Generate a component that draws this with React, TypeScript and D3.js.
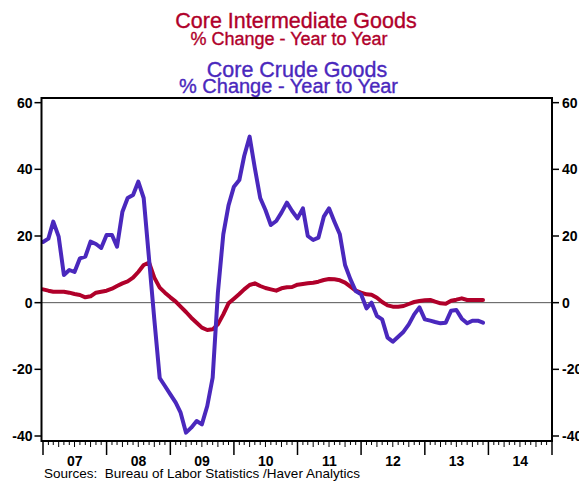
import React from 'react';
import * as d3 from 'd3';

// Monthly % change, Jan 2007 .. Dec 2013
const crudeGoods = [
  18.2, 19.2, 24.3, 19.8, 8.3, 9.8, 9.2, 13.3, 13.8, 18.3, 17.6, 16.4,
  20.3, 20.3, 16.8, 27.3, 31.4, 32.3, 36.3, 31.4, 13, -5, -22.6, -25,
  -27.5, -30, -33, -39, -37.5, -35.5, -36.5, -31, -22.5, 3, 20.5, 29.2,
  34.8, 36.8, 44, 49.8, 40.4, 31.4, 27.8, 23.3, 24.5, 27, 30, 27.5,
  25.3, 28.3, 20, 18.8, 19.5, 25.8, 28.3, 24.3, 20.5, 11.3, 7, 3.5,
  2.5, -1.7, 0, -4, -5, -10.5, -11.7, -10.2, -8.7, -6.5, -3.5, -1.4,
  -5, -5.4, -5.8, -6.2, -6, -2.4, -2.2, -4.8, -6.2, -5.4, -5.4, -6,
];

const intermediateGoods = [
  4.0, 3.6, 3.3, 3.3, 3.3, 3.0, 2.6, 2.3, 1.6, 1.9, 3.0, 3.3,
  3.6, 4.2, 5.0, 5.8, 6.4, 7.5, 9.2, 11.3, 12.0, 7.5, 4.5, 3.0,
  1.6, 0.3, -1.2, -2.8, -4.5, -6.0, -7.5, -8.2, -8.0, -6.5, -3.5, -0.2,
  1.2, 2.6, 4.0, 5.3, 5.8, 5.0, 4.4, 4.0, 3.6, 4.3, 4.6, 4.7,
  5.4, 5.6, 5.8, 6.0, 6.3, 6.8, 7.1, 7.0, 6.7, 6.0, 4.8, 3.6,
  3.0, 2.5, 2.4, 1.5, 0.2, -0.8, -1.2, -1.2, -1.0, -0.4, 0.2, 0.5,
  0.7, 0.8, 0.3, -0.2, -0.3, 0.6, 0.9, 1.3, 0.8, 0.8, 0.8, 0.8,
];

const yTicks = [-40, -20, 0, 20, 40, 60];
const years = [2007, 2008, 2009, 2010, 2011, 2012, 2013, 2014];
const yearLabels = ['07', '08', '09', '10', '11', '12', '13', '14'];

const RED = '#b0002a';
const PURPLE = '#4a28bd';
const FONT = '"Liberation Sans", Arial, sans-serif';

const W = 579;
const H = 481;
const left = 41.5;
const right = 552;
const top = 98;
const bottom = 441;

export default function App() {
  const x = d3.scaleTime()
    .domain([new Date(2007, 0, 1), new Date(2015, 0, 1)])
    .range([43, 552]);
  const y = d3.scaleLinear().domain([-41.5, 61.4]).range([bottom, top]);

  const dateAt = (i: number) => new Date(2007, i, 1);
  const line = d3.line<number>()
    .x((_, i) => x(dateAt(i)))
    .y(d => y(d));

  const months = d3.timeMonth.range(new Date(2007, 0, 1), new Date(2015, 0, 2));

  return (
    <svg width={W} height={H} style={{ position: 'absolute', left: 0, top: 0, background: '#fff' }}
      fontFamily={FONT}>
      {/* titles */}
      <g strokeWidth={0.35}>
        <text x={296} y={28} textAnchor="middle" fontSize={21.5} fill={RED} stroke={RED}>Core Intermediate Goods</text>
        <text x={289} y={45} textAnchor="middle" fontSize={18} fill={RED} stroke={RED}>% Change - Year to Year</text>
        <text x={297} y={77} textAnchor="middle" fontSize={21.5} fill={PURPLE} stroke={PURPLE}>Core Crude Goods</text>
        <text x={288.5} y={93} textAnchor="middle" fontSize={20} fill={PURPLE} stroke={PURPLE}>% Change - Year to Year</text>
      </g>

      {/* zero line */}
      <line x1={left} x2={right} y1={y(0)} y2={y(0)} stroke="#555" strokeWidth={1} />

      {/* series */}
      <path d={line(intermediateGoods) || ''} fill="none" stroke={RED} strokeWidth={4}
        strokeLinejoin="round" strokeLinecap="round" />
      <path d={line(crudeGoods) || ''} fill="none" stroke={PURPLE} strokeWidth={4}
        strokeLinejoin="round" strokeLinecap="round" />

      {/* frame */}
      <rect x={left} y={top} width={right - left} height={bottom - top} fill="none" stroke="#000" strokeWidth={2} />

      {/* y axes */}
      {yTicks.map(t => (
        <g key={t}>
          <line x1={left - 7} x2={left} y1={y(t)} y2={y(t)} stroke="#000" strokeWidth={1.5} />
          <text x={left - 9} y={y(t) + 5} textAnchor="end" fontSize={14} fontWeight="bold">{t}</text>
          <line x1={right} x2={right + 7} y1={y(t)} y2={y(t)} stroke="#000" strokeWidth={1.5} />
          <text x={right + 10} y={y(t) + 5} textAnchor="start" fontSize={14} fontWeight="bold">{t}</text>
        </g>
      ))}

      {/* x axis ticks */}
      {months.map((m, i) => {
        const mo = m.getMonth();
        const len = mo === 0 ? 14 : mo % 3 === 0 ? 6 : 4;
        return (
          <line key={i} x1={x(m)} x2={x(m)} y1={bottom} y2={bottom + len}
            stroke="#000" strokeWidth={mo === 0 ? 1.5 : 1} />
        );
      })}
      {years.map((yr, i) => (
        <text key={yr} x={(x(new Date(yr, 0, 1)) + x(new Date(yr + 1, 0, 1))) / 2} y={465.5}
          textAnchor="middle" fontSize={14} fontWeight="bold">{yearLabels[i]}</text>
      ))}

      <text x={44} y={478} fontSize={13.5} xmlSpace="preserve">Sources:  Bureau of Labor Statistics /Haver Analytics</text>
    </svg>
  );
}
